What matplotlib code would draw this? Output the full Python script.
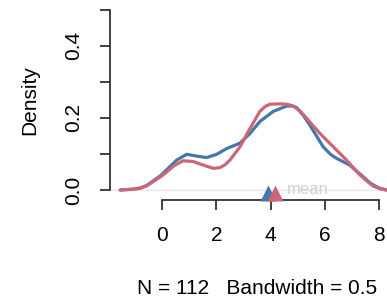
import numpy as np
import matplotlib
matplotlib.use("Agg")
import matplotlib.pyplot as plt

plt.rcParams["font.family"] = ["Liberation Sans", "DejaVu Sans"]

# density curves
red_x = [-1.54, -1.1, -0.81, -0.55, -0.33, -0.05, 0.17, 0.45, 0.78, 1.15, 1.52, 1.89,
         2.13, 2.32, 2.5, 2.87, 3.24, 3.6, 3.8, 3.97, 4.34, 4.6, 4.83, 5.08, 5.32,
         5.81, 6.3, 6.79, 7.28, 7.55, 7.77, 8.0, 8.26]
red_y = [0.0, 0.002, 0.005, 0.012, 0.023, 0.037, 0.05, 0.068, 0.081, 0.079, 0.069, 0.06,
         0.062, 0.07, 0.083, 0.12, 0.171, 0.218, 0.232, 0.238, 0.239, 0.238, 0.233, 0.219, 0.199,
         0.157, 0.12, 0.083, 0.042, 0.024, 0.011, 0.004, 0.0]
blue_x = [-1.54, -1.1, -0.81, -0.55, -0.33, -0.05, 0.17, 0.54, 0.91, 1.28, 1.64, 2.01,
          2.38, 2.87, 3.24, 3.6, 4.09, 4.58, 4.8, 4.95, 5.2, 5.44, 5.93, 6.2, 6.42,
          6.91, 7.4, 7.65, 7.89, 8.05, 8.26]
blue_y = [0.0, 0.002, 0.005, 0.013, 0.025, 0.04, 0.056, 0.083, 0.099, 0.094, 0.09, 0.099,
          0.115, 0.13, 0.157, 0.19, 0.218, 0.233, 0.233, 0.229, 0.207, 0.18, 0.12, 0.099, 0.088,
          0.069, 0.037, 0.02, 0.009, 0.004, 0.0]
means = [3.9, 4.15]
colors = ["#4477AA", "#CC6677"]

x_ticks = [0, 2, 4, 6, 8]
y_ticks = [0.0, 0.1, 0.2, 0.3, 0.4, 0.5]
y_labels = ["0.0", "", "0.2", "", "0.4", ""]

fig = plt.figure(figsize=(3.87, 2.99), dpi=100)
ax = fig.add_axes([110 / 387, 99 / 299, 277 / 387, 197 / 299])

ax.axhline(0, color="#e6e6e6", lw=1.0, zorder=1)
ax.plot(blue_x, blue_y, color=colors[0], lw=2.3, zorder=3,
        solid_capstyle="round", solid_joinstyle="round")
ax.plot(red_x, red_y, color=colors[1], lw=2.3, zorder=4,
        solid_capstyle="round", solid_joinstyle="round")

for m, c in zip(means, colors):
    ax.plot(m, -0.008, marker="^", ms=11, color=c, mec="none", clip_on=False, zorder=5)
ax.text(4.6, 0.002, "mean", color="#d0d0d0", fontsize=12, va="center", ha="left")

ax.set_xlim(-1.915, 8.28)
ax.set_ylim(-0.0278, 0.519)

for s in ["top", "right"]:
    ax.spines[s].set_visible(False)
ax.spines["left"].set_bounds(0, 0.5)
ax.spines["bottom"].set_bounds(0, 8)
for s in ["left", "bottom"]:
    ax.spines[s].set_color("#333333")
    ax.spines[s].set_linewidth(1.3)

ax.set_xticks(x_ticks)
ax.set_xticklabels([str(t) for t in x_ticks])
ax.set_yticks(y_ticks)
ax.set_yticklabels(y_labels, rotation=90, va="center")
ax.tick_params(length=7, width=1.3, color="#333333", labelsize=15, pad=12)

fig.text(30 / 387, 1 - 100 / 299, "Density", rotation=90, fontsize=15,
         ha="center", va="center")
fig.text(257 / 387, 1 - 288 / 299, "N = 112   Bandwidth = 0.5", fontsize=15,
         ha="center", va="center")

fig.savefig("out.png", dpi=100)
